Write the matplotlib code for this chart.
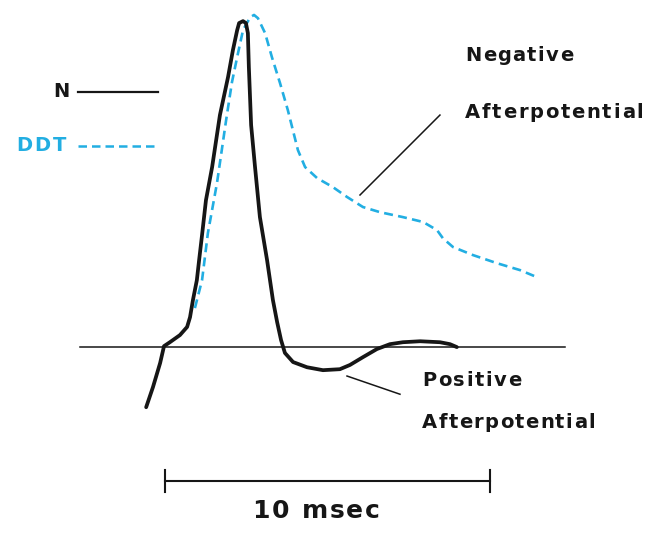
import matplotlib
matplotlib.use("Agg")
import matplotlib.pyplot as plt
from matplotlib.font_manager import FontProperties
from matplotlib.textpath import TextToPath

OUTPUT_FIG = "out.png"

# action potential traces, time in msec, amplitude scaled so N peak = 100
N_T = [-0.58, -0.37, -0.15, -0.03, 0.15, 0.46, 0.68, 0.77, 0.86, 0.98, 1.05, 1.14,
       1.26, 1.45, 1.69, 1.94, 2.09, 2.22, 2.28, 2.40, 2.49, 2.55, 2.58, 2.62,
       2.65, 2.77, 2.92, 3.14, 3.32, 3.45, 3.57, 3.69, 3.94, 4.37, 4.86, 5.38,
       5.69, 6.09, 6.52, 6.92, 7.32, 7.85, 8.46, 8.77, 8.98]
N_V = [-18.5, -12.3, -4.9, 0.3, 1.5, 3.7, 6.2, 9.2, 14.5, 20.6, 26.8, 34.5,
       45.2, 55.4, 71.4, 83.1, 91.4, 97.5, 99.7, 100.3, 99.7, 96.6, 86.2, 76.0,
       68.3, 55.4, 40.0, 26.8, 14.5, 7.7, 2.2, -1.8, -4.6, -6.2, -7.1, -6.8,
       -5.5, -3.1, -0.6, 0.9, 1.5, 1.8, 1.5, 0.9, 0.0]

DDT_T = [0.92, 1.14, 1.32, 1.60, 1.88, 2.06, 2.22, 2.40, 2.62, 2.74, 2.86, 3.08,
         3.29, 3.54, 3.78, 4.09, 4.31, 4.68, 5.17, 5.60, 6.09, 6.62, 7.32, 7.94,
         8.37, 8.55, 8.86, 9.48, 10.22, 10.92, 11.45]
DDT_V = [12.0, 20.6, 35.1, 50.5, 69.8, 81.5, 89.2, 97.5, 101.5, 102.2, 101.2, 96.6,
         89.2, 81.2, 72.9, 60.6, 55.4, 52.0, 49.2, 46.2, 43.1, 41.5, 40.0, 38.5,
         36.0, 33.5, 30.8, 28.3, 25.8, 23.7, 21.5]

BASELINE_T = [-2.62, 12.31]
SCALE_MSEC = 10

CYAN = "#22aee2"
INK = "#161616"
DASH = (3.4, 2.0)


def spaced_text(ax, x, y, s, size, tracking, color, ha="left"):
    # matplotlib has no letter spacing, so place glyphs one by one
    prop = FontProperties(family="DejaVu Sans", weight="bold", size=size)
    t2p = TextToPath()
    widths = [t2p.get_text_width_height_descent(s[:i], prop, ismath=False)[0] if i else 0.0
              for i in range(len(s) + 1)]
    total = widths[-1] + tracking * (len(s) - 1)
    start = 0.0 if ha == "left" else -total / 2
    for i, ch in enumerate(s):
        ax.annotate(ch, xy=(x, y), xycoords="data",
                    xytext=(start + widths[i] + tracking * i, 0),
                    textcoords="offset points", fontproperties=prop,
                    color=color, ha="left", va="baseline")


def main():
    fig = plt.figure(figsize=(6.46, 5.33), dpi=100)
    ax = fig.add_axes([0, 0, 1, 1])
    ax.set_xlim(-5.077, 14.8)
    ax.set_ylim(-57.2, 106.8)
    ax.axis("off")

    ax.plot(BASELINE_T, [0, 0], color=INK, lw=1.1)
    ax.plot(DDT_T, DDT_V, color=CYAN, lw=1.9, dashes=DASH)
    ax.plot(N_T, N_V, color=INK, lw=2.7, solid_capstyle="round", solid_joinstyle="round")

    # leader lines
    ax.plot([6.0, 8.46], [46.8, 71.4], color=INK, lw=1.1)
    ax.plot([5.6, 7.23], [-8.9, -14.5], color=INK, lw=1.1)

    # legend
    ax.plot([-2.68, -0.22], [78.5, 78.5], color=INK, lw=1.6)
    ax.plot([-2.68, -0.22], [61.8, 61.8], color=CYAN, lw=1.8, dashes=DASH)
    spaced_text(ax, -3.45, 76.9, "N", 14, 1.2, INK)
    spaced_text(ax, -4.58, 60.3, "DDT", 14, 1.6, CYAN)

    spaced_text(ax, 9.23, 88.0, "Negative", 14, 1.0, INK)
    spaced_text(ax, 9.23, 70.5, "Afterpotential", 14, 1.3, INK)
    spaced_text(ax, 7.91, -12.0, "Positive", 14, 1.2, INK)
    spaced_text(ax, 7.91, -24.9, "Afterpotential", 14, 1.0, INK)

    # time scale bar
    ax.plot([0, SCALE_MSEC], [-41.2, -41.2], color=INK, lw=1.5)
    for xt in (0, SCALE_MSEC):
        ax.plot([xt, xt], [-37.8, -44.6], color=INK, lw=1.5)
    spaced_text(ax, 4.65, -52.6, f"{SCALE_MSEC} msec", 18, 1.4, INK, ha="center")

    fig.savefig(OUTPUT_FIG, dpi=100)


if __name__ == "__main__":
    main()
